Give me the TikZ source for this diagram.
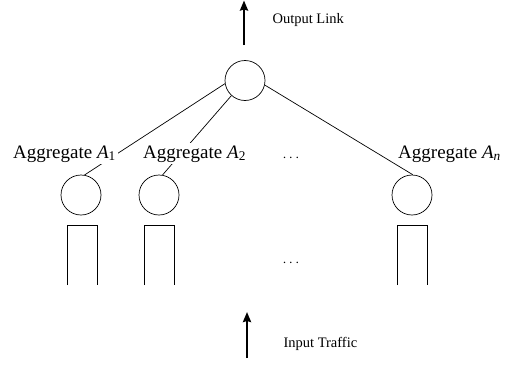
\documentclass[tikz,border=0pt]{standalone}
\usepackage{fontspec}
\setmainfont{Liberation Serif}
\usetikzlibrary{arrows.meta}
\begin{document}
\begin{tikzpicture}[x=1pt,y=-1pt,
  node/.style={draw,circle,minimum size=40pt,inner sep=0pt,line width=0.7pt},
  link/.style={line width=0.7pt},
  queue/.style={line width=0.7pt},
  flow/.style={line width=2.6pt,-{Stealth[length=10pt,width=8pt,inset=1pt]}},
  agg/.style={fill=white,inner sep=2pt,font=\fontsize{19}{22}\selectfont},
  note/.style={font=\fontsize{14.5}{17}\selectfont},
  dots/.style={font=\fontsize{14}{16}\selectfont}]
\useasboundingbox (0,0) rectangle (518,364);

% multiplexer and the per-aggregate schedulers
\node[node] (top) at (245,80.5) {};
\node[node] (c1) at (81,195) {};
\node[node] (c2) at (159,195) {};
\node[node] (cn) at (412,195) {};

% output link and input traffic
\coordinate (outS) at (244,45);
\coordinate (outE) at (244,0.5);
\coordinate (inS) at (247,358);
\coordinate (inE) at (247,312);
\draw[flow] (outS) -- (outE);
\draw[flow] (inS) -- (inE);
\node[note,anchor=west] (outlbl) at (269,20) {Output Link};
\node[note,anchor=west] (inlbl) at (280,344) {Input Traffic};

% tree links
\draw[link] (top.189) -- (c1.80);
\draw[link] (top.228) -- (c2.80);
\draw[link] (top.-13) -- (cn.88);

% aggregate labels (white boxes hide the links underneath)
\node[agg,anchor=base west] (l1) at (11,158) {Aggregate \textit{A}\textsubscript{1}};
\node[agg,anchor=base west] (l2) at (141,158) {Aggregate \textit{A}\textsubscript{2}};
\node[agg,anchor=base west] (ln) at (396,158) {Aggregate \textit{A\textsubscript{n}}};

% queues (open at the bottom)
\foreach \q/\x in {q1/82,q2/159,qn/412}{
  \coordinate (\q) at (\x,225);
  \draw[queue] ([xshift=-15pt,yshift=-60pt]\q) -- ([xshift=-15pt]\q) -- ([xshift=15pt]\q) -- ([xshift=15pt,yshift=-60pt]\q);
}

% ellipses
\node[dots] (d1) at (291,158) {$\cdots$};
\node[dots] (d2) at (291,263) {$\cdots$};
\end{tikzpicture}
\end{document}
